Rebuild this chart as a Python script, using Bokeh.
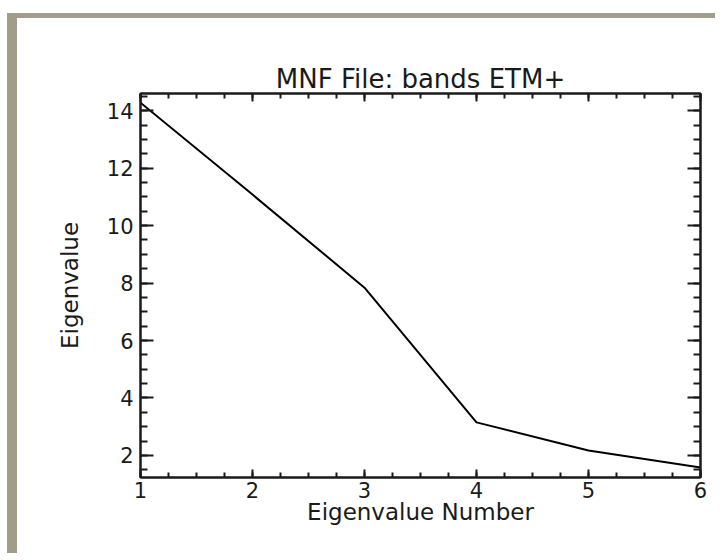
from bokeh.plotting import figure
from bokeh.models import LinearAxis, SingleIntervalTicker, Range1d
from bokeh.embed import file_html
from bokeh.resources import INLINE

# Data
eig_number = [1, 2, 3, 4, 5, 6]
eigenvalue = [14.28, 11.08, 7.84, 3.15, 2.17, 1.58]

title_text = "MNF File: bands ETM+"
x_label = "Eigenvalue Number"
y_label = "Eigenvalue"

FONT = "DejaVu Sans"
INK = "#1a1a1a"

p = figure(width=708, height=540, output_backend="svg", toolbar_location=None,
           x_range=Range1d(1, 6), y_range=Range1d(1.23, 14.6),
           x_axis_location=None, y_axis_location=None,
           min_border_left=123, min_border_right=25,
           min_border_top=75, min_border_bottom=81)

p.styles = {"border-left": "10px solid #a29c8a", "border-top": "5px solid #a29c8a",
            "margin-top": "13px", "margin-left": "7px"}

p.title.text = title_text
p.title.align = "center"
p.title.text_font = FONT
p.title.text_font_style = "normal"
p.title.text_font_size = "26px"
p.title.text_color = INK
p.title.standoff = 0

p.grid.visible = False
p.background_fill_color = "white"
p.border_fill_color = "white"
p.outline_line_color = INK
p.outline_line_width = 2


def make_axis(ticker, labels, label_text, major_in, minor_in):
    ax = LinearAxis(ticker=ticker)
    ax.axis_line_color = INK
    ax.axis_line_width = 2
    ax.major_tick_line_color = INK
    ax.minor_tick_line_color = INK
    ax.major_tick_line_width = 2
    ax.minor_tick_line_width = 2
    ax.major_tick_in = major_in
    ax.major_tick_out = 0
    ax.minor_tick_in = minor_in
    ax.minor_tick_out = 0
    ax.major_label_text_font = FONT
    ax.major_label_text_font_size = "21px"
    ax.major_label_text_color = INK
    if not labels:
        ax.major_label_text_font_size = "0px"
        ax.major_label_text_alpha = 0
        ax.major_label_standoff = 0
    if label_text:
        ax.axis_label = label_text
        ax.axis_label_text_font = FONT
        ax.axis_label_text_font_style = "normal"
        ax.axis_label_text_font_size = "23px"
        ax.axis_label_text_color = INK
    return ax


xt = lambda: SingleIntervalTicker(interval=1, num_minor_ticks=4)
yt = lambda: SingleIntervalTicker(interval=2, num_minor_ticks=4)

xb = make_axis(xt(), True, x_label, 8, 5)
xb.major_label_standoff = 4
xb.axis_label_standoff = -2
p.add_layout(xb, "below")

xa = make_axis(xt(), False, None, 8, 5)
p.add_layout(xa, "above")

yl = make_axis(yt(), True, y_label, 13, 7)
yl.major_label_standoff = 7
yl.axis_label_standoff = 21
p.add_layout(yl, "left")

yr = make_axis(yt(), False, None, 13, 7)
p.add_layout(yr, "right")

p.line(eig_number, eigenvalue, line_color="black", line_width=2)

open("out.html", "w").write(file_html(p, INLINE))
